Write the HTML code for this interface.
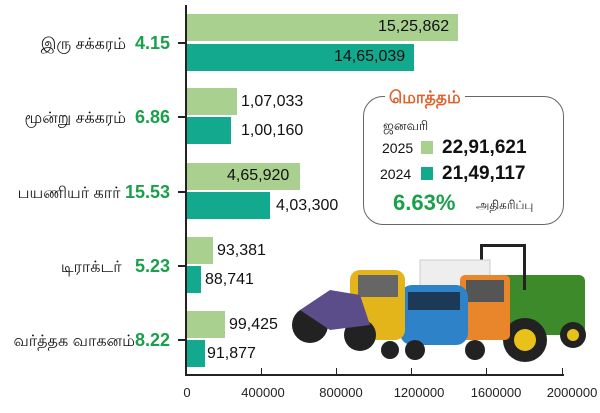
<!DOCTYPE html>
<html><head><meta charset="utf-8"><style>
body{margin:0;width:600px;height:413px;background:#fff;position:relative;overflow:hidden;font-family:"Liberation Sans","Noto Sans CJK SC",sans-serif}
.a{position:absolute}
.l{background:#a9d08f}.t{background:#13a98f}
.v{position:absolute;font-size:16px;color:#111;line-height:18px}
.cat{position:absolute;right:430px;font-size:16px;color:#111;white-space:nowrap;line-height:20px}
.pct{color:#1a9f4b;font-weight:bold;font-size:18px}
.tk{position:absolute;font-size:13px;color:#222;top:385px;transform:translateX(-50%)}
</style></head><body>
<div class="a" style="left:185px;top:5px;width:2px;height:371px;background:#222"></div>
<div class="a" style="left:185px;top:374px;width:379px;height:2px;background:#222"></div>
<div class="a" style="left:261px;top:368px;width:1px;height:7px;background:#222"></div>
<div class="a" style="left:336px;top:368px;width:1px;height:7px;background:#222"></div>
<div class="a" style="left:411px;top:368px;width:1px;height:7px;background:#222"></div>
<div class="a" style="left:486px;top:368px;width:1px;height:7px;background:#222"></div>
<div class="a" style="left:562px;top:368px;width:1px;height:7px;background:#222"></div>
<div class="tk" style="left:187px">0</div>
<div class="tk" style="left:263px">400000</div>
<div class="tk" style="left:341px">800000</div>
<div class="tk" style="left:419px">1200000</div>
<div class="tk" style="left:496px">1600000</div>
<div class="tk" style="left:572px">2000000</div>
<div class="a" style="left:178px;top:42px;width:8px;height:2px;background:#222"></div>
<div class="a" style="left:178px;top:116px;width:8px;height:2px;background:#222"></div>
<div class="a" style="left:178px;top:191px;width:8px;height:2px;background:#222"></div>
<div class="a" style="left:178px;top:265px;width:8px;height:2px;background:#222"></div>
<div class="a" style="left:178px;top:339px;width:8px;height:2px;background:#222"></div>
<div class="cat" style="top:33px">இரு சக்கரம் &nbsp;<span class="pct">4.15</span></div>
<div class="cat" style="top:107px">மூன்று சக்கரம் &nbsp;<span class="pct">6.86</span></div>
<div class="cat" style="top:182px">பயணியர் கார் <span class="pct">15.53</span></div>
<div class="cat" style="top:256px">டிராக்டர் &nbsp;&nbsp;<span class="pct">5.23</span></div>
<div class="cat" style="top:330px">வர்த்தக வாகனம்<span class="pct">8.22</span></div>
<div class="a l" style="left:187px;top:14px;width:271px;height:27px"></div>
<div class="a t" style="left:187px;top:44px;width:227px;height:27px"></div>
<div class="v" style="left:378px;top:18px">15,25,862</div>
<div class="v" style="left:334px;top:48px">14,65,039</div>
<div class="a l" style="left:187px;top:88px;width:50px;height:27px"></div>
<div class="a t" style="left:187px;top:117px;width:44px;height:27px"></div>
<div class="v" style="left:241px;top:93px">1,07,033</div>
<div class="v" style="left:241px;top:122px">1,00,160</div>
<div class="a l" style="left:187px;top:163px;width:113px;height:27px"></div>
<div class="a t" style="left:187px;top:192px;width:83px;height:27px"></div>
<div class="v" style="left:227px;top:167px">4,65,920</div>
<div class="v" style="left:276px;top:197px">4,03,300</div>
<div class="a l" style="left:187px;top:237px;width:26px;height:27px"></div>
<div class="a t" style="left:187px;top:266px;width:14px;height:27px"></div>
<div class="v" style="left:217px;top:242px">93,381</div>
<div class="v" style="left:205px;top:271px">88,741</div>
<div class="a l" style="left:187px;top:311px;width:38px;height:27px"></div>
<div class="a t" style="left:187px;top:340px;width:18px;height:27px"></div>
<div class="v" style="left:229px;top:316px">99,425</div>
<div class="v" style="left:207px;top:345px">91,877</div>
<div class="a" style="left:363px;top:96px;width:199px;height:127px;border:1.5px solid #666;border-radius:20px"></div>
<div class="a" style="left:385px;top:88px;background:#fff;padding:0 4px;color:#e0612b;font-size:17px;font-weight:bold">மொத்தம்</div>
<div class="a" style="left:383px;top:118px;font-size:13px;color:#111">ஜனவரி</div>
<div class="a" style="left:382px;top:140px;font-size:14px;color:#111">2025</div>
<div class="a l" style="left:421px;top:141px;width:12px;height:13px"></div>
<div class="a" style="left:442px;top:137px;font-size:19px;font-weight:bold;color:#111">22,91,621</div>
<div class="a" style="left:380px;top:166px;font-size:14px;color:#111">2024</div>
<div class="a t" style="left:421px;top:167px;width:12px;height:13px"></div>
<div class="a" style="left:442px;top:163px;font-size:19px;font-weight:bold;color:#111">21,49,117</div>
<div class="a" style="left:393px;top:190px;font-size:22px;font-weight:bold;color:#1a9f4b">6.63%</div>
<div class="a" style="left:476px;top:198px;font-size:12px;color:#111">அதிகரிப்பு</div>
<svg class="a" style="left:290px;top:240px" width="300" height="130">
<rect x="200" y="35" width="95" height="60" rx="6" fill="#3c8a2a"/>
<rect x="190" y="5" width="3" height="45" fill="#222"/><rect x="233" y="5" width="3" height="45" fill="#222"/><rect x="190" y="4" width="46" height="3" fill="#222"/>
<circle cx="235" cy="100" r="22" fill="#222"/><circle cx="235" cy="100" r="11" fill="#e8c21a"/>
<circle cx="283" cy="95" r="13" fill="#222"/><circle cx="283" cy="95" r="6" fill="#e8c21a"/>
<rect x="130" y="20" width="70" height="55" fill="#eee" stroke="#ccc"/>
<rect x="170" y="35" width="50" height="65" rx="5" fill="#e9862c"/>
<rect x="176" y="40" width="38" height="22" fill="#555"/>
<circle cx="185" cy="110" r="10" fill="#222"/>
<rect x="110" y="45" width="68" height="60" rx="12" fill="#2e83c8"/>
<rect x="118" y="52" width="52" height="18" fill="#1c3a57"/>
<circle cx="125" cy="110" r="10" fill="#222"/>
<rect x="60" y="30" width="55" height="70" rx="10" fill="#e3b51b"/>
<rect x="68" y="35" width="40" height="22" fill="#666"/>
<circle cx="100" cy="110" r="9" fill="#222"/>
<circle cx="20" cy="85" r="18" fill="#222"/><circle cx="70" cy="95" r="16" fill="#222"/>
<path d="M10 70 L40 50 L70 55 L80 85 L40 90 Z" fill="#5b4c8a"/>
</svg>
</body></html>
